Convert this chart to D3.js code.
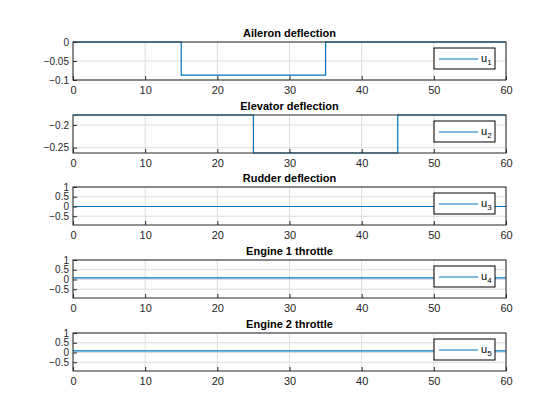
<!DOCTYPE html>
<html>
<head>
<meta charset="UTF-8">
<script src="https://d3js.org/d3.v7.min.js"></script>
<style>
  body { margin: 0; background: #fff; font-family: Arial, "Liberation Sans", sans-serif; }
  .tick text { font-size: 11px; fill: #262626; }
  .ytk .tick text { font-size: 10px; }
  .title { font-size: 11px; font-weight: bold; fill: #000; }
</style>
</head>
<body>
<svg id="chart" width="560" height="420"></svg>
<script>
const titles = ["Aileron deflection", "Elevator deflection", "Rudder deflection", "Engine 1 throttle", "Engine 2 throttle"];
const labels = ["1", "2", "3", "4", "5"];
const series = [
  [[0, 0], [15, 0], [15, -0.0873], [35, -0.0873], [35, 0], [60, 0]],
  [[0, -0.178], [25, -0.178], [25, -0.2618], [45, -0.2618], [45, -0.178], [60, -0.178]],
  [[0, 0], [60, 0]],
  [[0, 0.08], [60, 0.08]],
  [[0, 0.08], [60, 0.08]]
];
const yDomains = [[-0.1, 0], [-0.2618, -0.178], [-0.95, 1], [-0.95, 1], [-0.95, 1]];
const yTicks = [[-0.1, -0.05, 0], [-0.25, -0.2], [-0.5, 0, 0.5, 1], [-0.5, 0, 0.5, 1], [-0.5, 0, 0.5, 1]];
const xTicks = [0, 10, 20, 30, 40, 50, 60];

const svg = d3.select("#chart");
const left = 73, right = 506, h = 38;
const tops = [42, 115, 187, 260, 333];
const x = d3.scaleLinear().domain([0, 60]).range([left, right]);

series.forEach((data, i) => {
  const top = tops[i];
  const y = d3.scaleLinear().domain(yDomains[i]).range([top + h, top]);
  const g = svg.append("g");

  // grid
  g.selectAll(".gx").data(xTicks).enter().append("line")
    .attr("x1", d => x(d)).attr("x2", d => x(d)).attr("y1", top).attr("y2", top + h)
    .attr("stroke", "#dcdcdc").attr("stroke-width", 1);
  g.selectAll(".gy").data(yTicks[i]).enter().append("line")
    .attr("x1", left).attr("x2", right).attr("y1", d => y(d)).attr("y2", d => y(d))
    .attr("stroke", "#dcdcdc").attr("stroke-width", 1);

  // data
  g.append("path").datum(data)
    .attr("d", d3.line().x(d => x(d[0])).y(d => y(d[1])))
    .attr("fill", "none").attr("stroke", "#0072bd").attr("stroke-width", 1.2);

  // axes
  const xa = g.append("g").attr("transform", `translate(0,${top + h})`)
    .call(d3.axisBottom(x).tickValues(xTicks).tickSize(-4).tickPadding(6));
  const ya = g.append("g").attr("class", "ytk").attr("transform", `translate(${left},0)`)
    .call(d3.axisLeft(y).tickValues(yTicks[i]).tickSize(-4).tickPadding(4).tickFormat(d3.format("")));
  [xa, ya].forEach(a => {
    a.select(".domain").remove();
    a.selectAll(".tick line").attr("stroke", "#262626");
  });
  g.append("rect").attr("x", left).attr("y", top).attr("width", right - left).attr("height", h)
    .attr("fill", "none").attr("stroke", "#262626").attr("stroke-width", 1);

  g.append("text").attr("class", "title").attr("x", (left + right) / 2).attr("y", top - 5)
    .attr("text-anchor", "middle").text(titles[i]);

  // legend
  const lx = 434, ly = top + 6;
  g.append("rect").attr("x", lx).attr("y", ly).attr("width", 61).attr("height", 21)
    .attr("fill", "#fff").attr("stroke", "#000").attr("stroke-width", 1);
  g.append("line").attr("x1", lx + 5).attr("x2", lx + 44).attr("y1", ly + 11).attr("y2", ly + 11)
    .attr("stroke", "#0072bd").attr("stroke-width", 1.2);
  const t = g.append("text").attr("x", lx + 47).attr("y", ly + 14).attr("font-size", 11).attr("fill", "#000");
  t.append("tspan").text("u");
  t.append("tspan").attr("font-size", 8).attr("dy", 3).text(labels[i]);
});
</script>
</body>
</html>
